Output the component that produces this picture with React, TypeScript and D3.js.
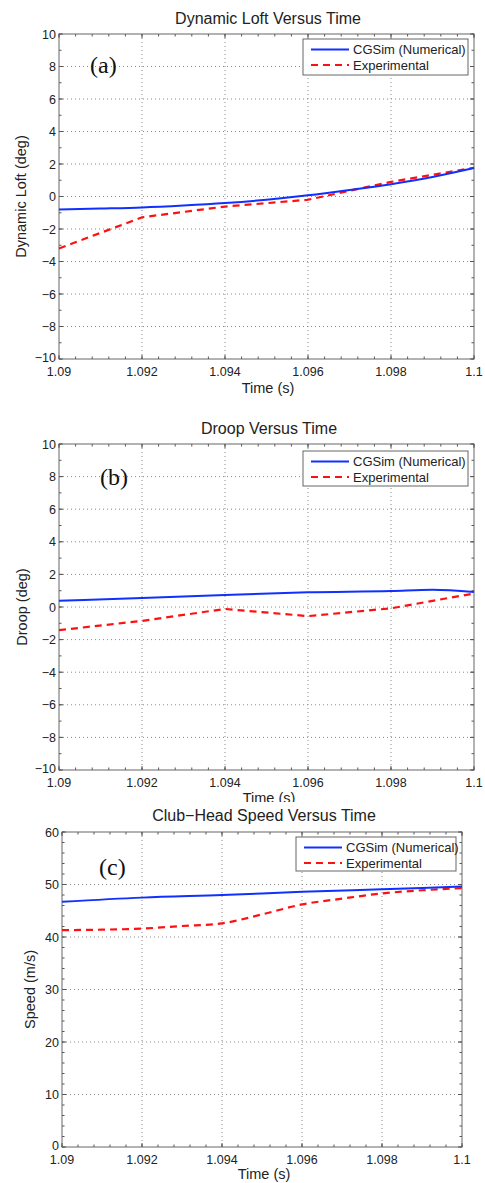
import React, { useEffect, useRef } from "react";
import * as d3 from "d3";

// x axis shared by all three panels
const timeTicks = [1.09, 1.092, 1.094, 1.096, 1.098, 1.1];
const timeTickLabels = ["1.09", "1.092", "1.094", "1.096", "1.098", "1.1"];
const seriesNames = ["CGSim (Numerical)", "Experimental"];

// (a) dynamic loft
const loftSimTime = [1.09, 1.091, 1.092, 1.093, 1.094, 1.095, 1.096, 1.097, 1.098, 1.099, 1.1];
const loftSim = [-0.8, -0.74, -0.67, -0.55, -0.4, -0.2, 0.07, 0.4, 0.76, 1.2, 1.75];
const loftExpTime = [1.09, 1.092, 1.094, 1.096, 1.098, 1.1];
const loftExp = [-3.2, -1.28, -0.62, -0.2, 0.9, 1.77];

// (b) droop
const droopSimTime = [1.09, 1.092, 1.094, 1.096, 1.098, 1.099, 1.1];
const droopSim = [0.38, 0.55, 0.73, 0.9, 0.98, 1.06, 0.92];
const droopExpTime = [1.09, 1.092, 1.094, 1.096, 1.098, 1.1];
const droopExp = [-1.42, -0.85, -0.12, -0.56, -0.08, 0.83];

// (c) club-head speed
const speedSimTime = [1.09, 1.092, 1.094, 1.096, 1.098, 1.1];
const speedSim = [46.7, 47.5, 48.0, 48.6, 49.1, 49.6];
const speedExpTime = [1.09, 1.091, 1.092, 1.093, 1.094, 1.095, 1.096, 1.097, 1.098, 1.099, 1.1];
const speedExp = [41.3, 41.4, 41.6, 42.1, 42.6, 44.3, 46.2, 47.3, 48.3, 48.9, 49.3];

const degTicks = [-10, -8, -6, -4, -2, 0, 2, 4, 6, 8, 10];
const speedTicks = [0, 10, 20, 30, 40, 50, 60];

const FONT = "Liberation Sans, Arial, sans-serif";

function drawPanel(svg: any, p: any) {
  const g = svg.append("g");
  const x = d3.scaleLinear().domain([1.09, 1.1]).range([p.left, p.right]);
  const y = d3.scaleLinear().domain(p.yDomain).range([p.bottom, p.top]);

  // grid
  g.selectAll(".gx")
    .data(timeTicks.slice(1, -1))
    .join("line")
    .attr("x1", (d: number) => x(d)).attr("x2", (d: number) => x(d))
    .attr("y1", p.top).attr("y2", p.bottom)
    .attr("stroke", "#8a8a8a").attr("stroke-width", 1).attr("stroke-dasharray", "1,3");
  g.selectAll(".gy")
    .data(p.yTicks.slice(1, -1))
    .join("line")
    .attr("y1", (d: number) => y(d)).attr("y2", (d: number) => y(d))
    .attr("x1", p.left).attr("x2", p.right)
    .attr("stroke", "#8a8a8a").attr("stroke-width", 1).attr("stroke-dasharray", "1,3");

  // ticks (inward, all four sides)
  const xMinor = d3.range(0, 26).map((i) => 1.09 + i * 0.0004);
  const yMinor = d3.range(p.yDomain[0], p.yDomain[1] + 1e-9, p.yMinorStep);
  const tickCol = "#555";
  const addXTicks = (vals: number[], len: number) => {
    vals.forEach((v) => {
      g.append("line").attr("x1", x(v)).attr("x2", x(v)).attr("y1", p.bottom).attr("y2", p.bottom - len).attr("stroke", tickCol);
      g.append("line").attr("x1", x(v)).attr("x2", x(v)).attr("y1", p.top).attr("y2", p.top + len).attr("stroke", tickCol);
    });
  };
  const addYTicks = (vals: number[], len: number) => {
    vals.forEach((v) => {
      g.append("line").attr("y1", y(v)).attr("y2", y(v)).attr("x1", p.left).attr("x2", p.left + len).attr("stroke", tickCol);
      g.append("line").attr("y1", y(v)).attr("y2", y(v)).attr("x1", p.right).attr("x2", p.right - len).attr("stroke", tickCol);
    });
  };
  addXTicks(xMinor, 2.5);
  addXTicks(timeTicks, 4);
  addYTicks(yMinor, 2.5);
  addYTicks(p.yTicks, 4);

  // box
  g.append("rect")
    .attr("x", p.left).attr("y", p.top)
    .attr("width", p.right - p.left).attr("height", p.bottom - p.top)
    .attr("fill", "none").attr("stroke", "#666").attr("stroke-width", 1);

  // tick labels
  g.selectAll(".xl")
    .data(timeTicks)
    .join("text")
    .attr("x", (d: number) => x(d))
    .attr("y", p.bottom + 17)
    .attr("text-anchor", "middle")
    .style("font-family", FONT).style("font-size", "12.5px").attr("fill", "#222")
    .text((d: number, i: number) => timeTickLabels[i]);
  g.selectAll(".yl")
    .data(p.yTicks)
    .join("text")
    .attr("x", p.left - 3)
    .attr("y", (d: number, i: number) => y(d) + (i === 0 ? 3 : 4.5))
    .attr("text-anchor", "end")
    .style("font-family", FONT).style("font-size", "12.5px").attr("fill", "#222")
    .text((d: number) => (d < 0 ? "\u2212" + Math.abs(d) : String(d)));

  // title + axis labels
  g.append("text")
    .attr("x", p.titleX).attr("y", p.titleY)
    .attr("text-anchor", "middle")
    .style("font-family", FONT).style("font-size", "16px").attr("fill", "#222")
    .text(p.title);
  const xl = g.append("text")
    .attr("x", p.titleX).attr("y", p.xlabelY)
    .attr("text-anchor", "middle")
    .style("font-family", FONT).style("font-size", "14.5px").attr("fill", "#222")
    .text("Time (s)");
  if (p.clipId) xl.attr("clip-path", `url(#${p.clipId})`);
  g.append("text")
    .attr("transform", `translate(${p.ylabelX},${(p.top + p.bottom) / 2}) rotate(-90)`)
    .attr("text-anchor", "middle")
    .style("font-family", FONT).style("font-size", "14.5px").attr("fill", "#222")
    .text(p.ylabel);

  // lines
  const simLine = d3.line<number>()
    .x((d, i) => x(p.simTime[i]))
    .y((d) => y(d))
    .curve(d3.curveMonotoneX);
  const expLine = d3.line<number>()
    .x((d, i) => x(p.expTime[i]))
    .y((d) => y(d))
    .curve(p.expCurve || d3.curveLinear);
  g.append("path").datum(p.exp).attr("d", expLine)
    .attr("fill", "none").attr("stroke", "#ff1010").attr("stroke-width", 2.2)
    .attr("stroke-dasharray", "7,5");
  g.append("path").datum(p.sim).attr("d", simLine)
    .attr("fill", "none").attr("stroke", "#1030ff").attr("stroke-width", 2);

  // legend
  const L = p.legend;
  g.append("rect")
    .attr("x", L.x).attr("y", L.y).attr("width", L.w).attr("height", L.h)
    .attr("fill", "white").attr("stroke", "#666").attr("stroke-width", 1);
  seriesNames.forEach((name, i) => {
    const ry = L.y + 10.5 + i * 15.5;
    g.append("line")
      .attr("x1", L.x + 8).attr("x2", L.x + 46).attr("y1", ry).attr("y2", ry)
      .attr("stroke", i === 0 ? "#1030ff" : "#ff1010")
      .attr("stroke-width", i === 0 ? 2 : 2.2)
      .attr("stroke-dasharray", i === 0 ? null : "7,5");
    g.append("text")
      .attr("x", L.x + 50).attr("y", ry + 4.5)
      .style("font-family", FONT).style("font-size", "13px").attr("fill", "#222")
      .text(name);
  });

  // panel letter
  g.append("text")
    .attr("x", p.letterX).attr("y", p.letterY)
    .style("font-family", "Liberation Serif, Times New Roman, serif").style("font-size", "24px").attr("fill", "#111")
    .text(p.letter);
}

export default function App() {
  const ref = useRef<SVGSVGElement>(null);

  useEffect(() => {
    const svg = d3.select(ref.current);
    svg.selectAll("*").remove();

    svg.append("defs").append("clipPath").attr("id", "clipB")
      .append("rect").attr("x", 0).attr("y", 0).attr("width", 485).attr("height", 802);

    drawPanel(svg, {
      left: 59, right: 474, top: 34, bottom: 359,
      yDomain: [-10, 10], yTicks: degTicks, yMinorStep: 1,
      title: "Dynamic Loft Versus Time", titleX: 268, titleY: 24,
      xlabelY: 393, ylabel: "Dynamic Loft (deg)", ylabelX: 26,
      simTime: loftSimTime, sim: loftSim, expTime: loftExpTime, exp: loftExp,
      legend: { x: 303, y: 39, w: 165, h: 36 },
      letter: "(a)", letterX: 90, letterY: 73,
    });
    drawPanel(svg, {
      left: 59, right: 474, top: 444, bottom: 770,
      yDomain: [-10, 10], yTicks: degTicks, yMinorStep: 1,
      title: "Droop Versus Time", titleX: 269, titleY: 434,
      xlabelY: 803, ylabel: "Droop (deg)", ylabelX: 27, clipId: "clipB",
      simTime: droopSimTime, sim: droopSim, expTime: droopExpTime, exp: droopExp,
      legend: { x: 303, y: 451, w: 165, h: 35 },
      letter: "(b)", letterX: 100, letterY: 485,
    });
    drawPanel(svg, {
      left: 62, right: 462, top: 832, bottom: 1147,
      yDomain: [0, 60], yTicks: speedTicks, yMinorStep: 2,
      title: "Club\u2212Head Speed Versus Time", titleX: 264, titleY: 821,
      xlabelY: 1179, ylabel: "Speed (m/s)", ylabelX: 35,
      simTime: speedSimTime, sim: speedSim, expTime: speedExpTime, exp: speedExp,
      expCurve: d3.curveMonotoneX,
      legend: { x: 296, y: 837, w: 160, h: 34 },
      letter: "(c)", letterX: 99, letterY: 875,
    });
  }, []);

  return (
    <svg
      ref={ref}
      width={485}
      height={1183}
      style={{ position: "absolute", left: 0, top: 0, background: "white" }}
    />
  );
}
